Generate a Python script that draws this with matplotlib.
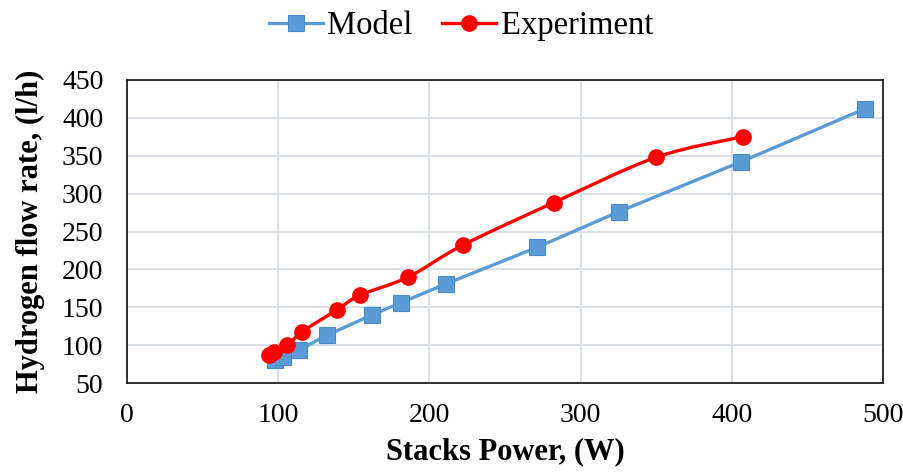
import numpy as np
import matplotlib.pyplot as plt
from matplotlib.path import Path
from matplotlib.patches import PathPatch

plt.rcParams['font.family'] = ['Liberation Serif', 'DejaVu Serif']

model_power = [98, 103, 114, 132, 162, 181, 211, 271, 325, 406, 488]
model_flow = [81, 85, 94, 113, 140, 156, 181, 229, 276, 342, 412]

exp_power = [94, 97, 106, 116, 139, 154, 186, 222, 282, 350, 407]
exp_flow = [87, 91, 100, 118, 147, 166, 190, 232, 288, 348, 375]

x_ticks = [0, 100, 200, 300, 400, 500]
y_ticks = [50, 100, 150, 200, 250, 300, 350, 400, 450]

blue = '#5B9BD5'
red = '#FF0000'


def smooth_path(xs, ys, t=0.5):
    # excel-like smoothed line: cubic bezier segments through the points
    p = np.column_stack([xs, ys]).astype(float)
    verts = [p[0]]
    codes = [Path.MOVETO]
    n = len(p)
    for i in range(n - 1):
        p0 = p[i - 1] if i > 0 else p[i]
        p3 = p[i + 2] if i + 2 < n else p[i + 1]
        c1 = p[i] + (p[i + 1] - p0) * t / 3
        c2 = p[i + 1] - (p3 - p[i]) * t / 3
        verts += [c1, c2, p[i + 1]]
        codes += [Path.CURVE4] * 3
    return Path(verts, codes)


fig = plt.figure(figsize=(9.04, 4.73), dpi=100)
ax = fig.add_axes([0.1405, 0.19, 0.8365, 0.641])

ax.plot(model_power, model_flow, color=blue, lw=2.4, marker='s', ms=11.5,
        mfc=blue, mec='#4A8ACB', mew=0.8, label='Model', zorder=3)

ax.add_patch(PathPatch(smooth_path(exp_power, exp_flow), fill=False,
                       edgecolor=red, lw=2.4, zorder=3))
ax.plot(exp_power, exp_flow, ls='none', marker='o', ms=11, color=red, zorder=4)
# legend handle only
ax.plot([], [], color=red, lw=2.4, marker='o', ms=11, label='Experiment')

ax.set_xlim(0, 500)
ax.set_ylim(50, 450)
ax.set_xticks(x_ticks)
ax.set_yticks(y_ticks)
ax.grid(True, color='#D9DEE6', lw=1.3)
ax.set_axisbelow(True)
ax.tick_params(length=0, labelsize=20)
ax.tick_params(axis='x', pad=14)
ax.tick_params(axis='y', pad=17)
for s in ax.spines.values():
    s.set_color('#222222')
    s.set_linewidth(1.3)

ax.set_xlabel('Stacks Power, (W)', fontsize=22, fontweight='bold', labelpad=7)
ax.set_ylabel('Hydrogen flow rate, (l/h)', fontsize=22, fontweight='bold', labelpad=12)

ax.legend(loc='center', bbox_to_anchor=(461 / 904, 447 / 473), bbox_transform=fig.transFigure,
          ncol=2, frameon=False, fontsize=23.5, handlelength=1.65,
          handletextpad=0.15, columnspacing=0.9, borderaxespad=0, borderpad=0)

fig.savefig('out.png', dpi=100)
